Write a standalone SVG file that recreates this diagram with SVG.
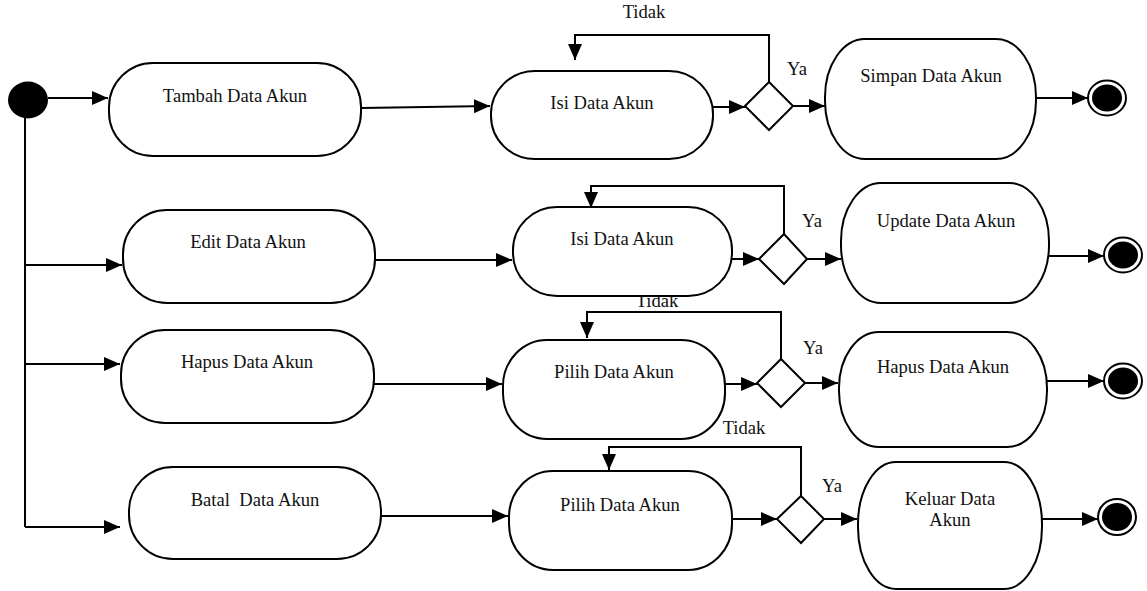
<svg xmlns="http://www.w3.org/2000/svg" width="1147" height="591" viewBox="0 0 1147 591">
<style>
.box{fill:#fff;stroke:#000;stroke-width:2}
.dia{fill:#fff;stroke:#000;stroke-width:2}
.ln{fill:none;stroke:#000;stroke-width:2;marker-end:url(#arr)}
.pl{fill:none;stroke:#000;stroke-width:2}
text{font-family:"Liberation Serif","Times New Roman",serif;font-size:18.6px;fill:#111;text-anchor:middle;white-space:pre}
</style>
<defs>
<marker id="arr" markerUnits="userSpaceOnUse" viewBox="0 0 16 14" markerWidth="16" markerHeight="14" refX="16" refY="7" orient="auto">
<path d="M0,0 L16,7 L0,14 z" fill="#000"/>
</marker>
</defs>
<rect width="1147" height="591" fill="#fff"/>
<g id="connectors">
<path class="ln" d="M48,98 H108"/>
<path class="pl" d="M25,117 V527"/>
<path class="ln" d="M25,265 H122"/>
<path class="ln" d="M25,364 H120"/>
<path class="ln" d="M25,527 H120"/>
<path class="ln" d="M361,108 L490,106"/>
<path class="ln" d="M713,107 H745"/>
<path class="ln" d="M769,82 V35 H575 V60"/>
<path class="ln" d="M793,106 H825"/>
<path class="ln" d="M1033,98 H1088"/>
<path class="ln" d="M375,260 H512"/>
<path class="ln" d="M727,259 H759"/>
<path class="ln" d="M784,234 V186 H591 V208"/>
<path class="ln" d="M807,259 H841"/>
<path class="ln" d="M1049,256 H1104"/>
<path class="ln" d="M374,384 H502"/>
<path class="ln" d="M725,384 H757"/>
<path class="ln" d="M781,359 V312 H587 V338"/>
<path class="ln" d="M805,383 H838"/>
<path class="ln" d="M1047,381 H1104"/>
<path class="ln" d="M381,516 H508"/>
<path class="ln" d="M732,519 H777"/>
<path class="ln" d="M801,496 V447 H609 V470"/>
<path class="ln" d="M824,519 H857"/>
<path class="ln" d="M1042,519 H1098"/>
</g>
<g id="labels">
<text x="644" y="18">Tidak</text>
<text x="657" y="307">Tidak</text>
<text x="744" y="434">Tidak</text>
<text x="797" y="75">Ya</text>
<text x="812" y="227">Ya</text>
<text x="813" y="354">Ya</text>
<text x="832" y="492">Ya</text>
</g>
<g id="start"><ellipse cx="28" cy="100" rx="20" ry="18.5" fill="#000"/></g>
<g id="tambah"><rect class="box" x="109" y="63" width="252" height="93" rx="44" ry="44"/><text x="235" y="102">Tambah Data Akun</text></g>
<g id="edit"><rect class="box" x="123" y="210" width="252" height="93" rx="44" ry="44"/><text x="248" y="248">Edit Data Akun</text></g>
<g id="hapus"><rect class="box" x="121" y="330" width="253" height="93" rx="44" ry="44"/><text x="247" y="368">Hapus Data Akun</text></g>
<g id="batal"><rect class="box" x="129" y="467" width="252" height="92" rx="44" ry="44"/><text x="255" y="506">Batal  Data Akun</text></g>
<g id="isi1"><rect class="box" x="491" y="71" width="222" height="88" rx="44" ry="43"/><text x="602" y="109">Isi Data Akun</text></g>
<g id="isi2"><rect class="box" x="513" y="207" width="219" height="89" rx="44" ry="43"/><text x="622" y="245">Isi Data Akun</text></g>
<g id="pilih1"><rect class="box" x="503" y="340" width="222" height="99" rx="44" ry="46"/><text x="614" y="378">Pilih Data Akun</text></g>
<g id="pilih2"><rect class="box" x="509" y="471" width="223" height="99" rx="44" ry="46"/><text x="620" y="511">Pilih Data Akun</text></g>
<g id="d1"><polygon class="dia" points="745,106 769,82 793,106 769,130"/></g>
<g id="d2"><polygon class="dia" points="759,259 784,234 807,259 784,284"/></g>
<g id="d3"><polygon class="dia" points="757,383 781,359 805,383 781,407"/></g>
<g id="d4"><polygon class="dia" points="777,519 801,496 824,519 801,543"/></g>
<g id="simpan"><rect class="box" x="825" y="39" width="211" height="120" rx="40" ry="58"/><text x="931" y="82">Simpan Data Akun</text></g>
<g id="update"><rect class="box" x="841" y="183" width="208" height="120" rx="40" ry="58"/><text x="946" y="227">Update Data Akun</text></g>
<g id="hapus2"><rect class="box" x="839" y="332" width="208" height="115" rx="40" ry="56"/><text x="943" y="373">Hapus Data Akun</text></g>
<g id="keluar"><rect class="box" x="858" y="462" width="184" height="127" rx="38" ry="62"/><text x="950" y="505">Keluar Data</text><text x="950" y="526">Akun</text></g>
<g id="end1"><ellipse cx="1107" cy="98" rx="19" ry="17.5" fill="#fff" stroke="#000" stroke-width="2"/><ellipse cx="1107" cy="98" rx="15" ry="13.5" fill="#000"/></g>
<g id="end2"><ellipse cx="1123" cy="255" rx="19" ry="17.5" fill="#fff" stroke="#000" stroke-width="2"/><ellipse cx="1123" cy="255" rx="15" ry="13.5" fill="#000"/></g>
<g id="end3"><ellipse cx="1123" cy="381" rx="19" ry="17.5" fill="#fff" stroke="#000" stroke-width="2"/><ellipse cx="1123" cy="381" rx="15" ry="13.5" fill="#000"/></g>
<g id="end4"><ellipse cx="1117" cy="517" rx="19" ry="18" fill="#fff" stroke="#000" stroke-width="2"/><ellipse cx="1117" cy="517" rx="15" ry="14" fill="#000"/></g>
</svg>
